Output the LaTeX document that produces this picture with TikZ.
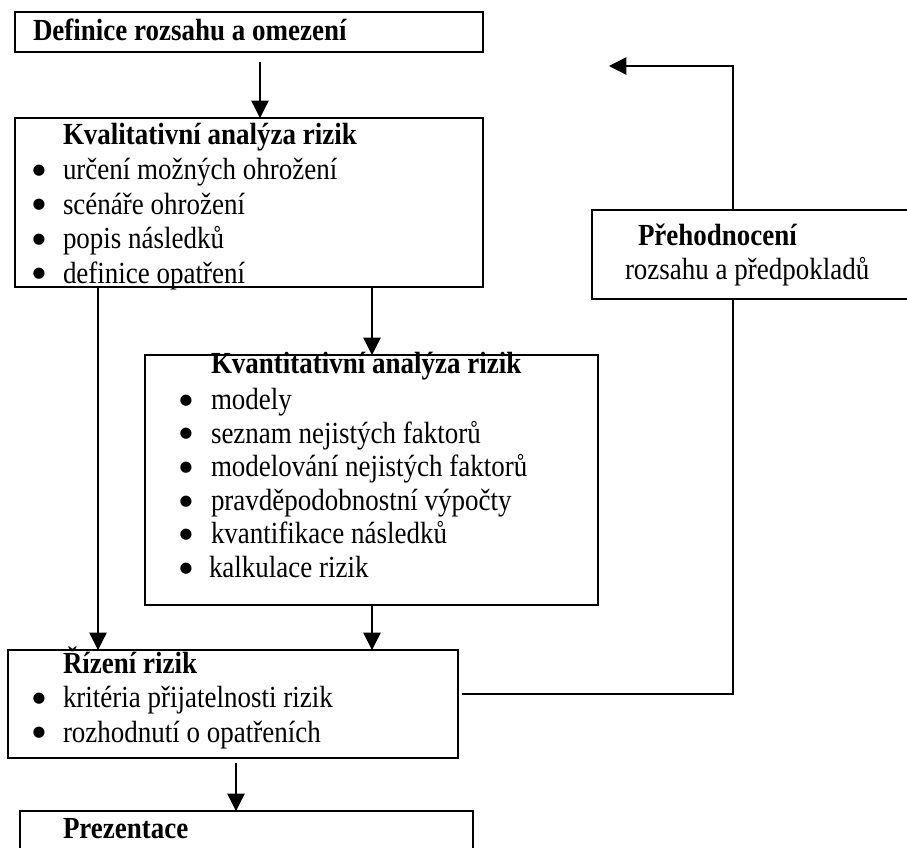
\documentclass[tikz,border=0pt]{standalone}
\usepackage{fontspec}
\setmainfont{Liberation Serif}[FakeStretch=0.88]
\newfontfamily\dejavu{DejaVu Sans}
\usetikzlibrary{arrows.meta,calc}
\newcommand{\bdot}{\makebox[0pt][c]{\raisebox{4pt}{\dejavu\fontsize{11pt}{11pt}\selectfont ●}}}
\newcommand{\bl}[2][18pt]{\hbox{\llap{\bdot\hskip#1}#2}}
\newcommand{\stack}[2]{\vtop{\baselineskip=#1\lineskiplimit=-100pt\relax #2}}
\begin{document}
\begin{tikzpicture}[x=0.75pt,y=-0.75pt,
  box/.style={draw,line width=1pt,rectangle,anchor=north west,inner sep=0pt,outer sep=0pt},
  txt/.style={anchor=base west,inner sep=0pt,outer sep=0pt,font=\fontsize{23pt}{26pt}\selectfont},
  arr/.style={line width=1pt,-{Triangle[length=13pt,width=13pt]}},
  ln/.style={line width=1pt}]
\useasboundingbox (0,0) rectangle (907,848);
\clip (0,0) rectangle (907,848);
% boxes
\node[box,minimum width=351pt,minimum height=30pt] (def) at (15,12) {};
\node[box,minimum width=351pt,minimum height=126.75pt] (kval) at (15,118) {};
\node[box,minimum width=339.75pt,minimum height=187.5pt] (kvant) at (145,355) {};
\node[box,minimum width=337.5pt,minimum height=81pt] (riz) at (8,650) {};
\node[box,minimum width=339.75pt,minimum height=60pt] (prez) at (20,811) {};
\node[box,minimum width=247.5pt,minimum height=66.75pt] (preh) at (592,210) {};
% texts
\node[txt] (tdef) at (33,41) {\bfseries Definice rozsahu a omezení};
\node[txt] (tkval) at (63,145) {\stack{25.9pt}{\hbox{\bfseries Kvalitativní analýza rizik}\bl{určení možných ohrožení}\bl{scénáře ohrožení}\bl{popis následků}\bl{definice opatření}}};
\node[txt] (tkvant) at (211,374) {\stack{25.2pt}{\hbox{\bfseries Kvantitativní analýza rizik}\vskip1.5pt\bl[18.75pt]{modely}\bl[18.75pt]{seznam nejistých faktorů}\bl[18.75pt]{modelování nejistých faktorů}\bl[18.75pt]{pravděpodobnostní výpočty}\bl[18.75pt]{kvantifikace následků}\hbox{\hskip-1.5pt\llap{\bdot\hskip17.25pt}kalkulace rizik}}};
\node[txt] (triz) at (63,673) {\stack{25.9pt}{\hbox{\bfseries Řízení rizik}\bl{kritéria přijatelnosti rizik}\bl{rozhodnutí o opatřeních}}};
\node[txt] (tpreh) at (638,246) {\bfseries Přehodnocení};
\node[txt] (tpreh2) at (625,280) {rozsahu a předpokladů};
\node[txt] (tprez) at (63,838) {\bfseries Prezentace};
% connectors
\coordinate (xa) at (260,0);
\coordinate (xb) at (98,0);
\coordinate (xc) at (372,0);
\coordinate (xd) at (236,0);
\coordinate (c1) at (733,694);
\coordinate (c2) at (733,66);
\coordinate (c3) at (609,66);
\draw[arr] ($(def.south -| xa)+(0,10)$) -- (kval.north -| xa);
\draw[arr] (kval.south -| xb) -- (riz.north -| xb);
\draw[arr] (kval.south -| xc) -- (kvant.north -| xc);
\draw[arr] (kvant.south -| xc) -- (riz.north -| xc);
\draw[arr] ($(riz.south -| xd)+(0,5)$) -- (prez.north -| xd);
\draw[ln] ($(riz.east |- c1)+(4,0)$) -- (c1) -- (preh.south -| c1);
\draw[arr] (preh.north -| c2) -- (c2) -- (c3);
\end{tikzpicture}
\end{document}
